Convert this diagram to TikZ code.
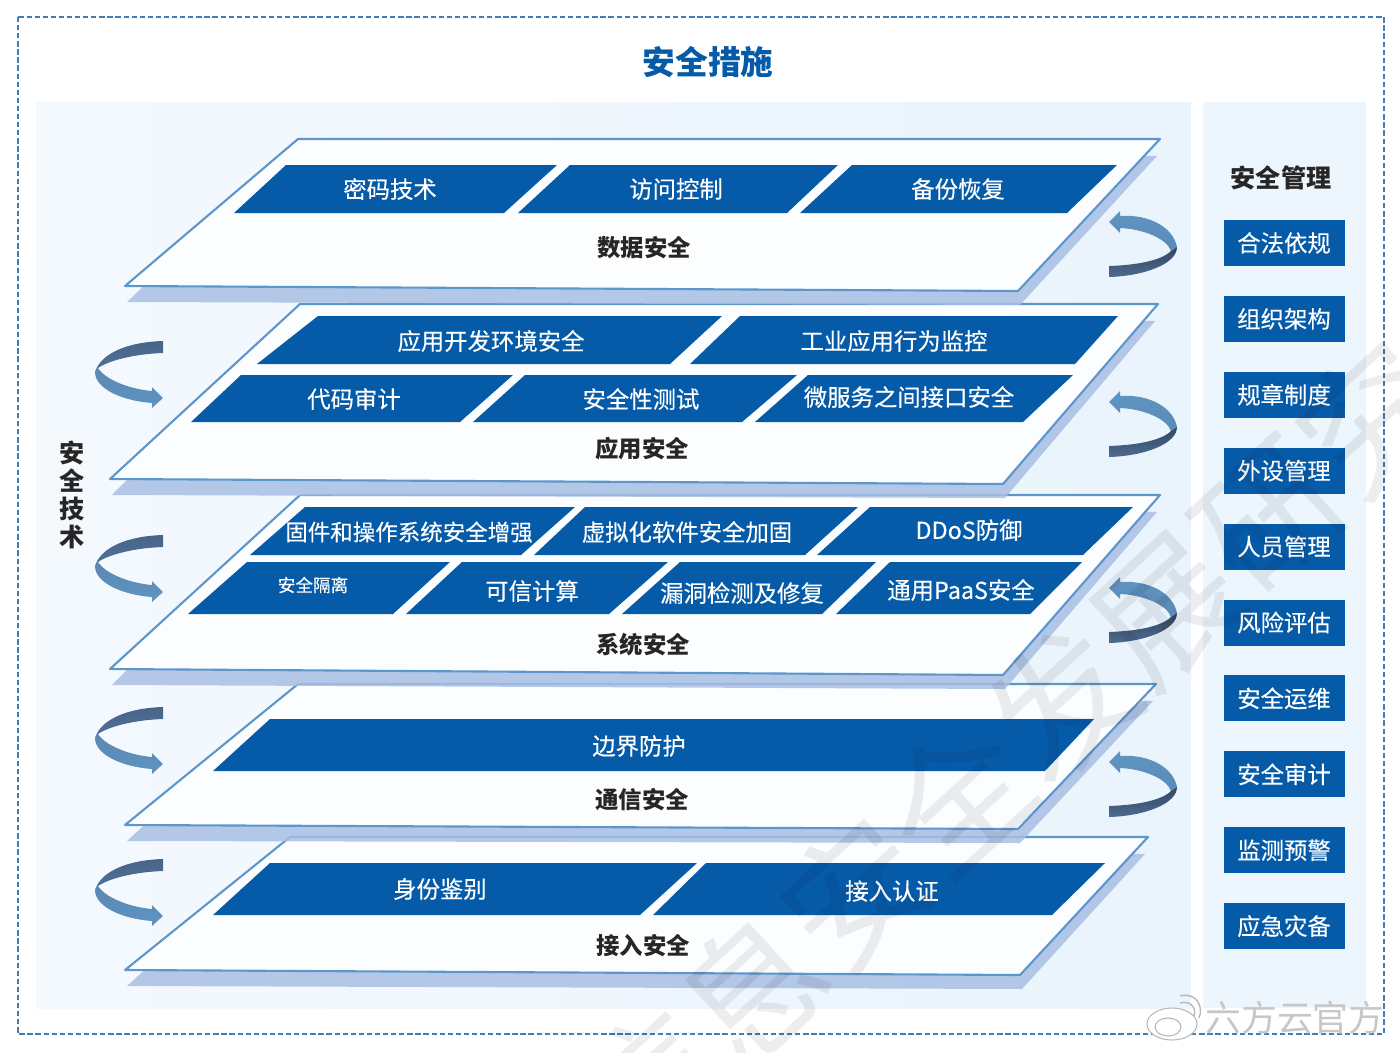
\documentclass[tikz,border=0pt]{standalone}
\usepackage{fontspec}
\setmainfont{Noto Sans CJK SC}
\newfontfamily\midfont[FakeBold=0.25]{Noto Sans CJK SC}
\usetikzlibrary{calc}

\definecolor{panelblue}{HTML}{065BA9}
\definecolor{edgeblue}{HTML}{5C96CB}
\definecolor{shadowblue}{HTML}{A9BFE4}
\definecolor{framblue}{HTML}{3F7DB3}
\definecolor{bgleft}{HTML}{F4F9FE}
\definecolor{bgright}{HTML}{EAF4FC}
\definecolor{curldark}{HTML}{496488}
\definecolor{curllight}{HTML}{5F94C1}

\tikzset{
  panel/.style={fill=panelblue},
  paneltext/.style={text=white,font=\midfont\fontsize{13.3}{15}\selectfont},
  layertext/.style={text=black!85,font=\fontsize{13.3}{15}\selectfont\bfseries},
  layerplane/.style={draw=edgeblue,line width=1.2pt,line join=round,fill=white!60!bgleft},
  layershadow/.style={fill=shadowblue,opacity=.85},
  mgmtbox/.style={fill=panelblue,text=white,minimum width=2.42cm,minimum height=0.92cm,inner sep=0pt,font=\midfont\fontsize{13.3}{15}\selectfont},
  leftcurl/.pic={
    \shade[top color=curldark,bottom color=curldark!70!curllight] (0,0) .. controls (-35,1) and (-62,12) .. (-68,31) -- (-65,27) .. controls (-55,20) and (-30,13) .. (0,12) -- cycle;
    \shade[top color=curllight!75!curldark,bottom color=curllight] (-68,31) .. controls (-68,48) and (-40,60) .. (-11,62) -- (-11,67) -- (0,57) -- (-11,46) -- (-11,50) .. controls (-35,48) and (-58,38) .. (-65,27) -- cycle;
  },
  rightcurl/.pic={
    \shade[top color=curllight,bottom color=curllight!80!curldark] (0,0) -- (11,-11) -- (11,-6) .. controls (40,-8) and (64,5) .. (68,25) -- (62,29) .. controls (58,17) and (35,7) .. (11,6) -- (11,11) -- cycle;
    \shade[top color=curldark!70!black,bottom color=curldark!85!curllight] (68,25) .. controls (68,42) and (35,54) .. (0,55) -- (0,44) .. controls (30,43) and (53,38) .. (62,29) -- cycle;
  }
}

% shadow and plane of one layer: top left, top right, bottom right, bottom left
\newcommand{\layer}[4]{
  \fill[layershadow] ([shift={(2,16)}]#4) -- (#1) -- ([shift={(-3,17)}]#2) -- ([shift={(2,14)}]#3) -- cycle;
  \draw[layerplane] (#1) -- (#2) -- (#3) -- (#4) -- cycle;
}
\newcommand{\slab}[4]{\fill[panel] (#1) -- (#2) -- (#3) -- (#4) -- cycle;}

\begin{document}
\begin{tikzpicture}[x=0.02cm,y=-0.02cm]
\useasboundingbox (0,0) rectangle (1400,1052);

\draw[framblue,line width=0.7pt,dash pattern=on 3pt off 1.6pt] (18,17) rectangle (1384,1034);
\node[text=panelblue,font=\fontsize{18.6}{20}\selectfont\bfseries] (title) at (708,62) {安全措施};

\shade[left color=bgleft,right color=bgright] (36,102) rectangle (1191,1008);
\fill[bgright!70!bgleft] (1203,102) rectangle (1366,1008);

% access layer
\layer{290,837}{1148,837}{1020,975}{125,970}
\slab{270,863}{697,863}{640,915}{213,915}
\slab{706,863}{1105,863}{1052,915}{653,915}
\node[paneltext] (shenfen) at (440,889) {身份鉴别};
\node[paneltext] (jieru) at (892,891) {接入认证};
\node[layertext] (jierulayer) at (643,946) {接入安全};

% network layer
\layer{298,684}{1156,684}{1018,829}{125,825}
\slab{270,719}{1094,719}{1045,771}{213,771}
\node[paneltext] (bianjie) at (639,746) {边界防护};
\node[layertext] (tongxin) at (642,800) {通信安全};

% system layer
\layer{300,495}{1160,495}{1003,675}{110,669}
\slab{305,507}{575,507}{521,555}{250,555}
\slab{585,507}{858,507}{805,555}{534,555}
\slab{870,507}{1133,507}{1083,555}{817,555}
\slab{247,562}{450,562}{393,614}{188,614}
\slab{462,562}{668,562}{609,614}{406,614}
\slab{680,562}{876,562}{822,614}{622,614}
\slab{890,562}{1082,562}{1030,614}{836,614}
\node[paneltext,font=\midfont\fontsize{12.8}{15}\selectfont] (gujian) at (409,532) {固件和操作系统安全增强};
\node[paneltext,font=\midfont\fontsize{13.3}{15}\selectfont] (xuni) at (687,532) {虚拟化软件安全加固};
\node[paneltext] (ddos) at (969,530) {DDoS防御};
\node[paneltext,font=\midfont\fontsize{10}{12}\selectfont] (geli) at (313,585) {安全隔离};
\node[paneltext] (kexin) at (532,591) {可信计算};
\node[paneltext] (loudong) at (742,593) {漏洞检测及修复};
\node[paneltext] (paas) at (961,590) {通用PaaS安全};
\node[layertext] (xitong) at (643,645) {系统安全};

% application layer
\layer{300,304}{1158,304}{1003,484}{110,479}
\slab{318,316}{722,316}{670,364}{257,364}
\slab{740,316}{1118,316}{1075,364}{690,364}
\slab{241,375}{513,375}{460,422}{191,422}
\slab{525,375}{797,375}{742,422}{473,422}
\slab{808,375}{1073,375}{1023,422}{755,422}
\node[paneltext] (kaifa) at (491,341) {应用开发环境安全};
\node[paneltext] (gongye) at (894,341) {工业应用行为监控};
\node[paneltext] (daima) at (354,399) {代码审计};
\node[paneltext] (ceshi) at (641,399) {安全性测试};
\node[paneltext] (weifuwu) at (909,397) {微服务之间接口安全};
\node[layertext] (yingyong) at (642,449) {应用安全};

% data layer
\layer{298,139}{1160,139}{1018,291}{125,286}
\slab{286,165}{557,165}{504,213}{234,213}
\slab{570,165}{838,165}{787,213}{518,213}
\slab{852,165}{1117,165}{1067,213}{800,213}
\node[paneltext] (mima) at (390,189) {密码技术};
\node[paneltext] (fangwen) at (676,189) {访问控制};
\node[paneltext] (beifen) at (958,189) {备份恢复};
\node[layertext] (shuju) at (644,248) {数据安全};

\node[align=center,text=black!85,inner sep=0pt,font=\fontsize{14.3}{15.9}\selectfont\bfseries] (jishu) at (72,495) {安\\全\\技\\术};

\foreach \ypos in {341,535,707,859}
  \pic at (163,\ypos) {leftcurl};
\foreach \ypos in {222,402,588,762}
  \pic at (1109,\ypos) {rightcurl};

\node[text=black!85,font=\fontsize{14.3}{16}\selectfont\bfseries] (guanli) at (1281,178) {安全管理};
\foreach \name [count=\i from 0] in {合法依规,组织架构,规章制度,外设管理,人员管理,风险评估,安全运维,安全审计,监测预警,应急灾备}
  \node[mgmtbox] (m\i) at (1284,{243+75.9*\i}) {\name};

% watermark
\node[text=black,opacity=.07,rotate=42.6,font=\fontsize{80}{80}\selectfont] (wm) at (1010,751) {信息安全发展研究};
\draw[black!28,line width=0.6pt,fill=white] (1172,1024) ellipse (25 and 16);
\draw[black!28,line width=0.6pt] (1168,1027) ellipse (13 and 9);
\draw[black!28,line width=0.8pt] (1180,1003) .. controls (1190,1000) and (1197,1008) .. (1194,1016);
\draw[black!28,line width=0.8pt] (1180,996) .. controls (1196,992) and (1204,1006) .. (1199,1018);
\node[text=black!22,font=\fontsize{20.4}{22}\selectfont] (weibo) at (1295,1018) {六方云官方};
\end{tikzpicture}
\end{document}
